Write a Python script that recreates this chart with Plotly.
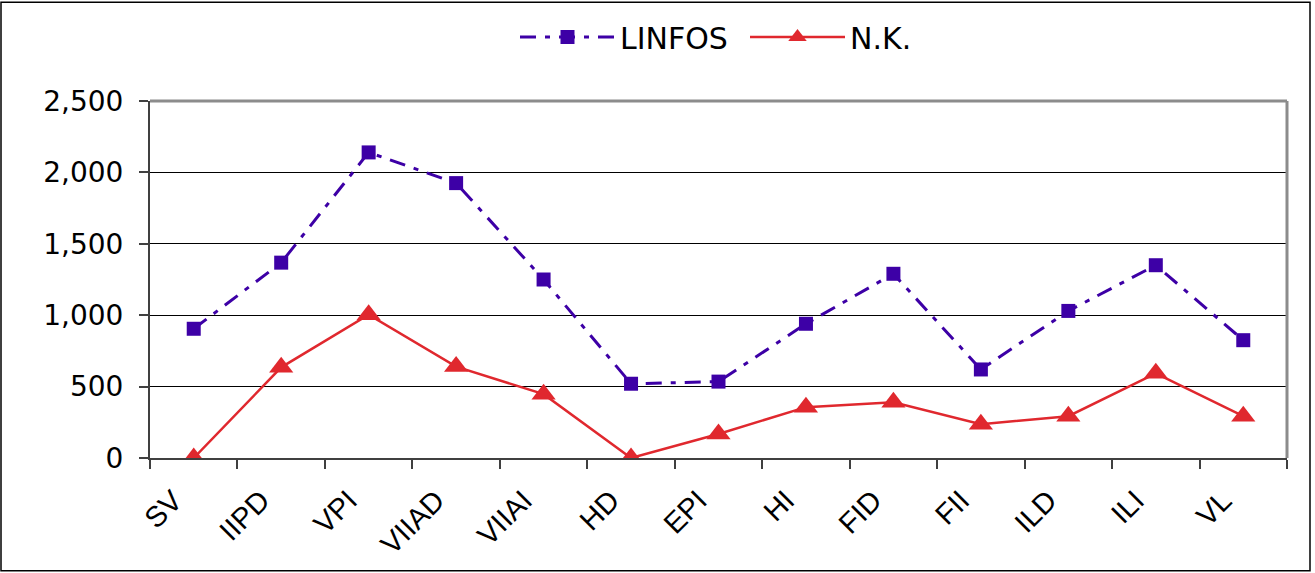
import plotly.graph_objects as go

categories = ["SV", "IIPD", "VPI", "VIIAD", "VIIAI", "HD", "EPI", "HI", "FID", "FII", "ILD", "ILI", "VL"]
linfos = [905, 1368, 2140, 1925, 1250, 520, 535, 940, 1290, 620, 1030, 1350, 825]
nk = [0, 635, 1003, 640, 447, 0, 168, 356, 391, 237, 293, 593, 293]
y_ticks = [0, 500, 1000, 1500, 2000, 2500]

W, H = 1315, 573
L, R, T, B = 150, 28, 100, 115
pw, ph = W - L - R, H - T - B

def px_x(p):
    return (p - L) / pw

def px_y(p):
    return (H - B - p) / ph

font = "DejaVu Sans, Verdana, sans-serif"
xfont = "Liberation Sans, Arial, sans-serif"

fig = go.Figure()
fig.add_trace(go.Scatter(
    x=categories, y=linfos, name="LINFOS", mode="lines+markers",
    line=dict(color="#3D00A6", width=3, dash="16px,9px,5px,9px"),
    marker=dict(symbol="square", size=14, color="#3D00A6"),
))
fig.add_trace(go.Scatter(
    x=categories, y=nk, name="N.K.", mode="lines+markers",
    line=dict(color="#E0282E", width=2.5),
    marker=dict(symbol="triangle-up", size=21, color="#E0282E"),
))

fig.update_layout(
    width=W, height=H,
    margin=dict(l=L, r=R, t=T, b=B),
    paper_bgcolor="white", plot_bgcolor="white",
    font=dict(family=font, color="black"),
    showlegend=True,
    legend=dict(orientation="h", x=px_x(515), xanchor="left", y=px_y(37), yanchor="middle",
                font=dict(size=30, family=font), itemwidth=95, entrywidth=120,
                bgcolor="rgba(0,0,0,0)"),
    xaxis=dict(
        type="category", tickangle=-45, tickson="boundaries",
        ticks="outside", ticklen=9, tickcolor="#404040", tickwidth=2,
        showline=True, linecolor="#404040", linewidth=2,
        showgrid=False, tickfont=dict(size=29, family=xfont),
        ticklabelshift=-20, ticklabelstandoff=12,
        range=[-0.5, len(categories) - 0.5],
    ),
    yaxis=dict(
        range=[0, 2500], tickvals=y_ticks, tickformat=",",
        ticks="outside", ticklen=9, tickcolor="#404040", tickwidth=2,
        showline=True, linecolor="#404040", linewidth=2,
        showgrid=True, gridcolor="black", gridwidth=1,
        zeroline=False, tickfont=dict(size=28, family=font),
        ticklabelstandoff=10,
    ),
    shapes=[
        dict(type="line", xref="paper", yref="paper", x0=0, x1=1, y0=1, y1=1,
             line=dict(color="#8C8C8C", width=3)),
        dict(type="line", xref="paper", yref="paper", x0=1, x1=1, y0=0, y1=1,
             line=dict(color="#8C8C8C", width=3)),
        dict(type="rect", xref="paper", yref="paper",
             x0=px_x(1), x1=px_x(1310), y0=px_y(1), y1=px_y(571),
             line=dict(color="black", width=1.5), layer="below"),
    ],
)

fig.write_html("out.html", config={"displayModeBar": False},
               post_script="document.body.style.margin='0px';")
